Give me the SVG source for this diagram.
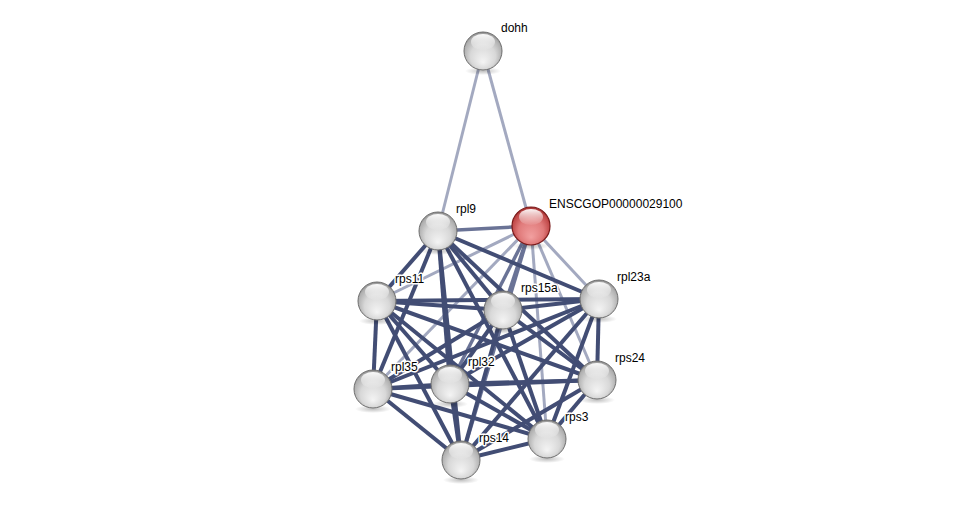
<svg xmlns="http://www.w3.org/2000/svg" width="976" height="505" viewBox="0 0 976 505">
<defs>
<radialGradient id="gw" cx="50%" cy="55%" r="55%" fx="50%" fy="80%">
<stop offset="0" stop-color="#f4f4f4"/>
<stop offset="0.6" stop-color="#d8d8d8"/>
<stop offset="0.9" stop-color="#b0b0b0"/>
<stop offset="1" stop-color="#8c8c8c"/>
</radialGradient>
<radialGradient id="gr" cx="50%" cy="55%" r="55%" fx="50%" fy="80%">
<stop offset="0" stop-color="#f2a0a0"/>
<stop offset="0.6" stop-color="#e07a7a"/>
<stop offset="0.9" stop-color="#c04848"/>
<stop offset="1" stop-color="#9a2a2a"/>
</radialGradient>
<linearGradient id="hl" x1="0" y1="0" x2="0" y2="1">
<stop offset="0" stop-color="#ffffff" stop-opacity="0.95"/>
<stop offset="1" stop-color="#ffffff" stop-opacity="0.05"/>
</linearGradient>
<radialGradient id="sh" cx="50%" cy="50%" r="50%">
<stop offset="0" stop-color="#000" stop-opacity="0.25"/>
<stop offset="1" stop-color="#000" stop-opacity="0"/>
</radialGradient>
</defs>
<style>
.e{fill:none;stroke-linecap:butt}
.d{stroke:#424d74;stroke-width:4}
.m{stroke:#6a7396;stroke-width:3.5}
.l{stroke:#a3a9c0;stroke-width:3}
.w circle.b{fill:url(#gw);stroke:#6e6e6e;stroke-width:1}
.r circle.b{fill:url(#gr);stroke:#7a1a1a;stroke-width:1.2}
ellipse.h{fill:url(#hl)}
ellipse.s{fill:url(#sh)}
text{font-family:"Liberation Sans",Arial,sans-serif;font-size:12px;fill:#000;paint-order:stroke;stroke:#fff;stroke-width:3px;stroke-linejoin:round}
</style>
<rect width="976" height="505" fill="#fff"/>
<g id="edges" class="e">
<line class="l" x1="483" y1="51" x2="438" y2="231"/>
<line class="l" x1="483" y1="51" x2="531" y2="226"/>
<line class="m" x1="531" y1="226" x2="438" y2="231"/>
<line class="l" x1="531" y1="226" x2="377" y2="301"/>
<line class="m" x1="531" y1="226" x2="503" y2="310"/>
<line class="l" x1="531" y1="226" x2="599" y2="299"/>
<line class="l" x1="531" y1="226" x2="373" y2="389"/>
<line class="m" x1="531" y1="226" x2="450" y2="384"/>
<line class="l" x1="531" y1="226" x2="597" y2="380"/>
<line class="l" x1="531" y1="226" x2="547" y2="439"/>
<line class="m" x1="531" y1="226" x2="461" y2="460"/>
<line class="d" x1="438" y1="231" x2="377" y2="301"/>
<line class="d" x1="438" y1="231" x2="503" y2="310"/>
<line class="d" x1="438" y1="231" x2="599" y2="299"/>
<line class="d" x1="438" y1="231" x2="373" y2="389"/>
<line class="d" x1="438" y1="231" x2="450" y2="384"/>
<line class="d" x1="438" y1="231" x2="597" y2="380"/>
<line class="d" x1="438" y1="231" x2="547" y2="439"/>
<line class="d" x1="438" y1="231" x2="461" y2="460"/>
<line class="d" x1="377" y1="301" x2="503" y2="310"/>
<line class="d" x1="377" y1="301" x2="599" y2="299"/>
<line class="d" x1="377" y1="301" x2="373" y2="389"/>
<line class="d" x1="377" y1="301" x2="450" y2="384"/>
<line class="d" x1="377" y1="301" x2="597" y2="380"/>
<line class="d" x1="377" y1="301" x2="547" y2="439"/>
<line class="d" x1="377" y1="301" x2="461" y2="460"/>
<line class="d" x1="503" y1="310" x2="599" y2="299"/>
<line class="d" x1="503" y1="310" x2="373" y2="389"/>
<line class="d" x1="503" y1="310" x2="450" y2="384"/>
<line class="d" x1="503" y1="310" x2="597" y2="380"/>
<line class="d" x1="503" y1="310" x2="547" y2="439"/>
<line class="d" x1="503" y1="310" x2="461" y2="460"/>
<line class="d" x1="599" y1="299" x2="373" y2="389"/>
<line class="d" x1="599" y1="299" x2="450" y2="384"/>
<line class="d" x1="599" y1="299" x2="597" y2="380"/>
<line class="d" x1="599" y1="299" x2="547" y2="439"/>
<line class="d" x1="599" y1="299" x2="461" y2="460"/>
<line class="d" x1="373" y1="389" x2="450" y2="384"/>
<line class="d" x1="373" y1="389" x2="597" y2="380"/>
<line class="d" x1="373" y1="389" x2="547" y2="439"/>
<line class="d" x1="373" y1="389" x2="461" y2="460"/>
<line class="d" x1="450" y1="384" x2="597" y2="380"/>
<line class="d" x1="450" y1="384" x2="547" y2="439"/>
<line class="d" x1="450" y1="384" x2="461" y2="460"/>
<line class="d" x1="597" y1="380" x2="547" y2="439"/>
<line class="d" x1="597" y1="380" x2="461" y2="460"/>
<line class="d" x1="547" y1="439" x2="461" y2="460"/>
</g>
<g id="node-dohh" class="w" transform="translate(483,51)">
<ellipse class="s" cx="0" cy="20" rx="18" ry="4"/>
<circle class="b" r="19"/>
<ellipse class="h" cx="0" cy="-9" rx="12" ry="8"/>
<text x="18" y="-19">dohh</text>
</g>
<g id="node-rpl9" class="w" transform="translate(438,231)">
<ellipse class="s" cx="0" cy="20" rx="18" ry="4"/>
<circle class="b" r="19"/>
<ellipse class="h" cx="0" cy="-9" rx="12" ry="8"/>
<text x="18" y="-18">rpl9</text>
</g>
<g id="node-ENSCGOP00000029100" class="r" transform="translate(531,226)">
<ellipse class="s" cx="0" cy="20" rx="18" ry="4"/>
<circle class="b" r="19"/>
<ellipse class="h" cx="0" cy="-9" rx="12" ry="8"/>
<text x="18" y="-18">ENSCGOP00000029100</text>
</g>
<g id="node-rps11" class="w" transform="translate(377,301)">
<ellipse class="s" cx="0" cy="20" rx="18" ry="4"/>
<circle class="b" r="19"/>
<ellipse class="h" cx="0" cy="-9" rx="12" ry="8"/>
<text x="18" y="-18">rps11</text>
</g>
<g id="node-rps15a" class="w" transform="translate(503,310)">
<ellipse class="s" cx="0" cy="20" rx="18" ry="4"/>
<circle class="b" r="19"/>
<ellipse class="h" cx="0" cy="-9" rx="12" ry="8"/>
<text x="18" y="-18">rps15a</text>
</g>
<g id="node-rpl23a" class="w" transform="translate(599,299)">
<ellipse class="s" cx="0" cy="20" rx="18" ry="4"/>
<circle class="b" r="19"/>
<ellipse class="h" cx="0" cy="-9" rx="12" ry="8"/>
<text x="18" y="-18">rpl23a</text>
</g>
<g id="node-rpl35" class="w" transform="translate(373,389)">
<ellipse class="s" cx="0" cy="20" rx="18" ry="4"/>
<circle class="b" r="19"/>
<ellipse class="h" cx="0" cy="-9" rx="12" ry="8"/>
<text x="18" y="-18">rpl35</text>
</g>
<g id="node-rpl32" class="w" transform="translate(450,384)">
<ellipse class="s" cx="0" cy="20" rx="18" ry="4"/>
<circle class="b" r="19"/>
<ellipse class="h" cx="0" cy="-9" rx="12" ry="8"/>
<text x="18" y="-18">rpl32</text>
</g>
<g id="node-rps24" class="w" transform="translate(597,380)">
<ellipse class="s" cx="0" cy="20" rx="18" ry="4"/>
<circle class="b" r="19"/>
<ellipse class="h" cx="0" cy="-9" rx="12" ry="8"/>
<text x="18" y="-18">rps24</text>
</g>
<g id="node-rps3" class="w" transform="translate(547,439)">
<ellipse class="s" cx="0" cy="20" rx="18" ry="4"/>
<circle class="b" r="19"/>
<ellipse class="h" cx="0" cy="-9" rx="12" ry="8"/>
<text x="18" y="-18">rps3</text>
</g>
<g id="node-rps14" class="w" transform="translate(461,460)">
<ellipse class="s" cx="0" cy="20" rx="18" ry="4"/>
<circle class="b" r="19"/>
<ellipse class="h" cx="0" cy="-9" rx="12" ry="8"/>
<text x="18" y="-18">rps14</text>
</g>
</svg>
